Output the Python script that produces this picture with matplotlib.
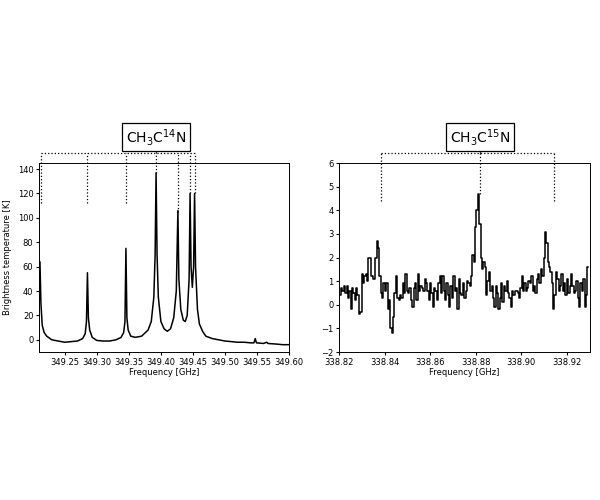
import numpy as np
import matplotlib
matplotlib.use("Agg")
import matplotlib.pyplot as plt
from matplotlib.transforms import blended_transform_factory as btf

# Left spectrum CH3C14N (frequency GHz, brightness K)
f14 = [349.210,349.2115,349.213,349.215,349.218,349.222,349.23,349.24,349.25,349.26,349.27,349.278,349.282,349.284,349.2855,349.287,349.289,349.293,349.30,349.31,349.32,349.33,349.338,349.342,349.344,349.3455,349.347,349.349,349.353,349.36,349.37,349.38,349.385,349.389,349.391,349.3925,349.394,349.396,349.40,349.405,349.41,349.415,349.42,349.424,349.4265,349.428,349.431,349.435,349.438,349.441,349.444,349.4455,349.447,349.449,349.451,349.4525,349.454,349.457,349.46,349.465,349.47,349.48,349.49,349.50,349.51,349.52,349.53,349.54,349.545,349.547,349.549,349.56,349.565,349.567,349.58,349.59,349.60]
t14 = [20,64,30,12,6,3,0,-1,-2,-1.5,-1,1,5,15,55,18,8,2,-0.5,-1,-1,0,2,6,15,75,18,8,3,2,3,8,15,35,70,137,70,35,15,9,7,9,18,40,106,50,25,16,15,20,50,120,60,43,60,120,60,25,13,7,3,1,0,-1,-1.5,-2,-2,-2.5,-2.5,1,-2.5,-3,-2,-3,-3.5,-4,-4]
lines14 = [349.2125,349.2855,349.3455,349.3925,349.4265,349.4455,349.4525]
bot14 = [112,112,112,137,105,120,120]

# Right spectrum CH3C15N channels
f15_start, f15_step = 338.82, 0.0006
t15 = [0.4,0.4,0.7,0.6,0.8,0.5,0.8,0.3,0.6,-0.2,0.7,0.5,0.2,0.7,0.4,-0.4,-0.3,
       1.3,0.9,1.2,1.3,1.0,2.0,2.0,1.2,1.1,1.1,2.0,2.7,2.4,1.2,0.5,0.3,0.9,
       0.6,0.9,-0.2,0.2,-1.0,-1.2,-0.5,0.5,1.2,0.3,0.2,0.4,0.3,0.9,0.5,1.3,0.6,
       0.5,0.7,0.2,-0.1,0.7,0.9,0.2,1.3,0.6,0.8,0.7,0.6,1.1,0.9,0.6,0.2,0.9,
       0.5,-0.1,0.7,0.6,0.2,0.9,1.2,0.5,1.2,0.6,0.2,0.9,0.4,-0.1,0.8,0.3,1.2,
       0.6,0.7,-0.2,1.1,0.5,0.4,0.9,0.3,0.6,1.0,0.9,0.8,1.2,2.1,1.8,3.3,4.0,
       4.7,3.4,2.0,1.5,1.8,1.6,0.4,1.0,1.4,0.6,0.8,0.3,-0.1,0.8,0.5,-0.2,0.3,
       0.9,0.1,0.8,0.6,1.0,0.5,0.3,-0.1,0.6,0.4,0.6,0.6,0.5,0.3,0.7,1.2,0.6,
       0.9,0.6,0.7,1.0,0.9,1.2,0.6,0.8,0.5,1.1,1.3,0.9,1.5,1.2,2.0,3.1,2.6,
       1.8,1.6,1.4,0.9,-0.2,0.4,1.4,1.1,0.6,0.8,1.3,0.6,0.9,0.4,1.1,0.5,0.8,
       1.3,0.8,0.5,0.6,1.0,0.3,-0.1,0.9,0.6,1.1,-0.1,0.4,1.6]
f15 = f15_start + f15_step*np.arange(len(t15))
lines15 = [338.8384,338.8818,338.9144]
bot15 = [4.4,4.7,4.4]

fig = plt.figure(figsize=(6,5), dpi=100)
ax1 = fig.add_axes([0.065,0.296,0.417,0.378])
ax2 = fig.add_axes([0.565,0.296,0.418,0.378])

ax1.plot(f14, t14, color='k', lw=1.1)
ax1.set_xlim(349.21, 349.60); ax1.set_ylim(-10, 145)
ax1.set_xticks([349.25,349.30,349.35,349.40,349.45,349.50,349.55,349.60])
ax1.set_yticks([0,20,40,60,80,100,120,140])
ax1.set_ylabel('Brightness temperature [K]', fontsize=6)

ax2.step(f15, t15, where='mid', color='k', lw=1.1)
ax2.set_xlim(338.82, 338.93); ax2.set_ylim(-2, 6)
ax2.set_xticks([338.82,338.84,338.86,338.88,338.90,338.92])

for ax, lines, bots, lab in [(ax1, lines14, bot14, 'CH$_3$C$^{14}$N'),
                             (ax2, lines15, bot15, 'CH$_3$C$^{15}$N')]:
    ax.set_xlabel('Frequency [GHz]', fontsize=6, labelpad=1)
    ax.tick_params(labelsize=6, length=2, pad=2)
    for s in ax.spines.values():
        s.set_linewidth(0.7)
    tr = btf(ax.transData, ax.transAxes)
    ytop = 1.053
    ax.plot([lines[0], lines[-1]], [ytop, ytop], ls=':', color='k', lw=0.9, transform=tr, clip_on=False)
    for x, b in zip(lines, bots):
        yb = ax.transAxes.inverted().transform(ax.transData.transform((x, b)))[1]
        ax.plot([x, x], [yb, ytop], ls=':', color='k', lw=0.9, transform=tr, clip_on=False)
    mid = lines[len(lines)//2] if ax is ax2 else lines[3]
    ax.plot([mid, mid], [ytop, 1.12], ls=':', color='k', lw=0.9, transform=tr, clip_on=False)
    ax.text(mid, 1.137, lab, transform=tr, ha='center', va='center', fontsize=10,
            bbox=dict(boxstyle='square,pad=0.25', fc='white', ec='k', lw=0.9))

fig.savefig('out.png', dpi=100)
